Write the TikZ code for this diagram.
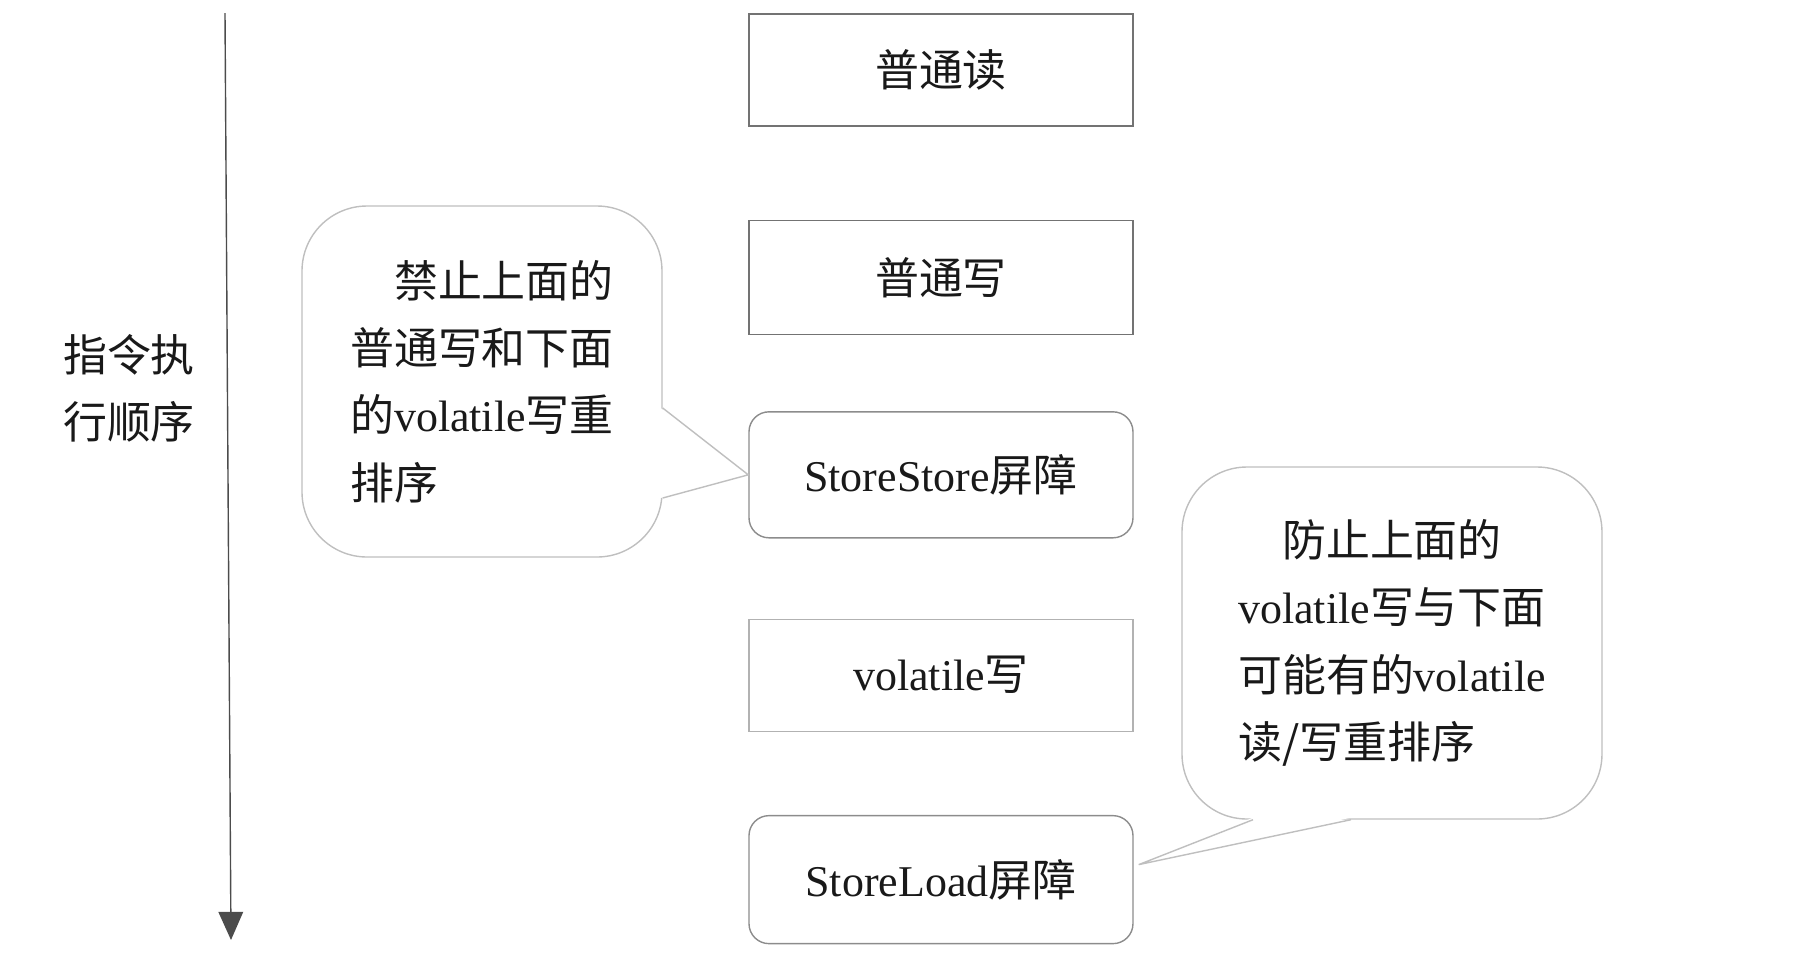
\documentclass[tikz,border=0pt]{standalone}
\usepackage{fontspec}
\setmainfont{Liberation Serif}
\newfontfamily\cjk{Noto Sans CJK SC}
\usepackage{tikz}
\usetikzlibrary{arrows.meta,positioning,calc}

\begin{document}
\begin{tikzpicture}[
    op/.style={rectangle, draw=black!55, text=black!90, minimum width=3.84cm, inner sep=2pt, font=\fontsize{12.5}{15}\selectfont},
    plainop/.style={op, draw=black!30},
    barrier/.style={op, draw=black!45, rounded corners=0.2cm},
    remark/.style={rectangle, draw=black!25, rounded corners=0.65cm, text=black!90, align=left, font=\fontsize{12.5}{19.2}\selectfont\cjk},
    pointer/.style={draw=black!25},
    flow/.style={draw=black!70, -{Triangle[width=7pt,length=8pt]}}
]
\useasboundingbox (0,0) rectangle (17.94,-9.66);

% --- INSTRUCTIONS (top to bottom) ---
\node (rd)  [op, minimum height=1.12cm] at (9.41,-0.70) {\cjk 普通读};
\node (wr)  [op, minimum height=1.14cm, below=0.93cm of rd] {\cjk 普通写};
\node (ss)  [barrier, minimum height=1.26cm, below=0.76cm of wr] {StoreStore{\cjk 屏障}};
\node (vw)  [plainop, minimum height=1.12cm, below=0.80cm of ss] {volatile{\cjk 写}};
\node (sl)  [barrier, minimum height=1.28cm, below=0.83cm of vw] {StoreLoad{\cjk 屏障}};

% --- ORDER AXIS ---
\coordinate (top) at (2.25,-0.13);
\coordinate (bot) at (2.31,-9.40);
\draw [flow] (top) -- (bot);
\node (order) [align=left, text=black!90, font=\fontsize{12.5}{19}\selectfont\cjk] at (1.29,-3.88) {指令执\\行顺序};

% --- REMARKS ---
\node (note1) [remark, minimum width=3.60cm, minimum height=3.51cm] at (4.82,-3.815)
    {\hspace*{1em}禁止上面的\\普通写和下面\\的{\rmfamily volatile}写重\\排序};
\node (note2) [remark, minimum width=4.20cm, minimum height=3.52cm] at (13.92,-6.43)
    {\hspace*{1em}防止上面的\\{\rmfamily volatile}写与下面\\可能有的{\rmfamily volatile}\\读/写重排序};

% pointers of the remarks
\fill [white] ([xshift=-0.6pt,yshift=-0.265cm]note1.east) -- (ss.west) -- ([xshift=-0.6pt,yshift=-1.165cm]note1.east) -- cycle;
\draw [pointer] ([yshift=-0.265cm]note1.east) -- (ss.west) -- ([yshift=-1.165cm]note1.east);

\coordinate (tip) at ([xshift=0.05cm,yshift=0.15cm]sl.east);
\fill [white] ([xshift=-1.39cm,yshift=0.6pt]note2.south) -- (tip) -- ([xshift=-0.41cm,yshift=0.6pt]note2.south) -- cycle;
\draw [pointer] ([xshift=-1.39cm]note2.south) -- (tip) -- ([xshift=-0.41cm]note2.south);

\end{tikzpicture}
\end{document}
